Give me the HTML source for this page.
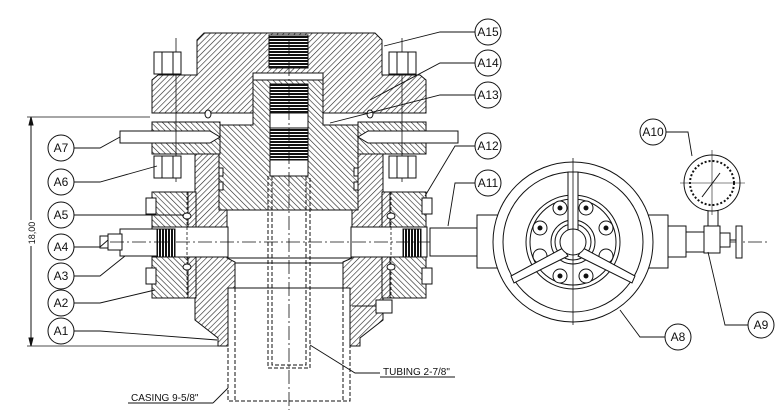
<!DOCTYPE html>
<html><head><meta charset="utf-8"><style>
html,body{margin:0;padding:0;background:#fff;}
svg{display:block;}
text{font-family:"Liberation Sans",sans-serif;fill:#111;}
</style></head><body>
<svg width="781" height="416" viewBox="0 0 781 416" xmlns="http://www.w3.org/2000/svg">
<defs>
<pattern id="h1" width="4" height="4" patternUnits="userSpaceOnUse" patternTransform="rotate(45)"><rect width="4" height="4" fill="#fff"/><line x1="0" y1="0" x2="0" y2="4" stroke="#222" stroke-width="1.2"/></pattern>
<pattern id="h2" width="4" height="4" patternUnits="userSpaceOnUse" patternTransform="rotate(-45)"><rect width="4" height="4" fill="#fff"/><line x1="0" y1="0" x2="0" y2="4" stroke="#222" stroke-width="1.2"/></pattern>
<pattern id="th" width="4" height="3" patternUnits="userSpaceOnUse"><rect width="4" height="3" fill="#fff"/><rect width="4" height="2" fill="#111"/></pattern>
<pattern id="sl" width="3" height="4" patternUnits="userSpaceOnUse"><rect width="3" height="4" fill="#fff"/><rect width="2" height="4" fill="#111"/></pattern>
</defs>
<g stroke="#111" stroke-width="1" fill="none">
<!-- cap -->
<path d="M197,40 L204,33 L375,33 L382,40 L382,75 L420,75 L426,80 L426,113 L152,113 L152,80 L158,75 L197,75 Z" fill="url(#h1)"/>
<rect x="269" y="35" width="39" height="33" fill="url(#th)"/>
<!-- hanger neck -->
<path d="M253,73 L323,73 L323,125 L358,125 L358,210 L219,210 L219,125 L253,125 Z" fill="url(#h2)"/>
<rect x="253" y="73" width="70" height="7" fill="#fff"/>
<rect x="270" y="84" width="38" height="29" fill="url(#th)"/>
<rect x="270" y="113" width="38" height="15" fill="#fff"/>
<rect x="270" y="128" width="38" height="32" fill="url(#th)"/>
<rect x="270" y="160" width="38" height="16" fill="#fff"/>
<rect x="219" y="168" width="4" height="8" fill="#fff"/><rect x="219" y="182" width="4" height="8" fill="#fff"/>
<rect x="354" y="168" width="4" height="8" fill="#fff"/><rect x="354" y="182" width="4" height="8" fill="#fff"/>
<!-- upper flanges -->
<rect x="152" y="122" width="68" height="32" fill="url(#h2)"/>
<rect x="358" y="122" width="68" height="32" fill="url(#h2)"/>
<ellipse cx="208" cy="114" rx="3" ry="4" fill="#fff"/><ellipse cx="370" cy="114" rx="3" ry="4" fill="#fff"/>
<!-- A7 plates -->
<path d="M120,131 L210,131 L220,137 L210,143 L120,143 Z" fill="#fff"/>
<path d="M458,131 L368,131 L358,137 L368,143 L458,143 Z" fill="#fff"/>
<!-- housing walls -->
<path d="M195,154 L219,154 L219,210 L227,210 L227,258 L235,262 L235,288 L228,288 L228,346 L218,346 L218,338 L195,320 Z" fill="url(#h1)"/>
<path d="M383,154 L358,154 L358,210 L352,210 L352,258 L343,262 L343,288 L350,288 L350,346 L360,346 L360,338 L383,320 Z" fill="url(#h1)"/>
<!-- side flanges -->
<rect x="152" y="192" width="36" height="106" fill="url(#h2)"/>
<rect x="390" y="192" width="36" height="106" fill="url(#h2)"/>
<rect x="188" y="192" width="8" height="106" fill="url(#h1)"/>
<rect x="382" y="192" width="8" height="106" fill="url(#h1)"/>
<!-- bores -->
<rect x="152" y="227" width="76" height="30" fill="#fff"/>
<rect x="351" y="227" width="76" height="30" fill="#fff"/>
<rect x="157" y="229" width="18" height="28" fill="url(#sl)"/>
<rect x="403" y="229" width="18" height="28" fill="url(#sl)"/>
<line x1="187" y1="192" x2="187" y2="298" stroke-dasharray="3,2" stroke-width="0.8"/>
<line x1="391" y1="192" x2="391" y2="298" stroke-dasharray="3,2" stroke-width="0.8"/>
<ellipse cx="187" cy="216" rx="4" ry="3" fill="#fff"/><ellipse cx="187" cy="267" rx="4" ry="3" fill="#fff"/>
<ellipse cx="391" cy="216" rx="4" ry="3" fill="#fff"/><ellipse cx="391" cy="267" rx="4" ry="3" fill="#fff"/>
<!-- plug A4/A3 -->
<rect x="120" y="229" width="37" height="27" fill="#fff"/>
<rect x="108" y="234" width="14" height="16" fill="#fff"/>
<rect x="100" y="236" width="8" height="12" fill="#fff"/>
<!-- nuts/bolts -->
<line x1="176" y1="38" x2="176" y2="182" stroke-width="0.8"/>
<line x1="402" y1="38" x2="402" y2="182" stroke-width="0.8"/>
<rect x="154" y="52" width="27" height="22" fill="#fff"/><line x1="162" y1="52" x2="162" y2="74"/><line x1="173" y1="52" x2="173" y2="74"/>
<rect x="389" y="52" width="27" height="22" fill="#fff"/><line x1="397" y1="52" x2="397" y2="74"/><line x1="408" y1="52" x2="408" y2="74"/>
<rect x="154" y="156" width="27" height="22" fill="#fff"/><line x1="162" y1="156" x2="162" y2="178"/><line x1="173" y1="156" x2="173" y2="178"/>
<rect x="389" y="156" width="27" height="22" fill="#fff"/><line x1="397" y1="156" x2="397" y2="178"/><line x1="408" y1="156" x2="408" y2="178"/>
<rect x="146" y="198" width="10" height="16" fill="#fff"/><rect x="146" y="268" width="10" height="16" fill="#fff"/>
<rect x="422" y="198" width="10" height="16" fill="#fff"/><rect x="422" y="268" width="10" height="16" fill="#fff"/>
<!-- small side fitting -->
<line x1="352" y1="306" x2="376" y2="306"/><rect x="376" y="300" width="16" height="13" fill="#fff"/>
<!-- lines bore -->
<line x1="227" y1="258" x2="352" y2="258"/><line x1="235" y1="263" x2="343" y2="263"/><line x1="235" y1="288" x2="343" y2="288"/>
<!-- casing & tubing -->
<g stroke-dasharray="4,2">
<path d="M228,288 L228,401 L350,401 L350,288"/><path d="M235,288 L235,401 M343,288 L343,401"/>
<path d="M268,176 L268,368 L310,368 L310,176"/><path d="M272,176 L272,365 L306,365 L306,176"/>
</g>
<line x1="289" y1="40" x2="289" y2="410" stroke-dasharray="14,3,2,3" stroke-width="0.8"/>
<line x1="110" y1="242" x2="770" y2="242" stroke-dasharray="14,3,2,3" stroke-width="0.8"/>
<!-- dimension -->
<line x1="27" y1="117" x2="150" y2="117" stroke-width="0.8"/><line x1="27" y1="346" x2="220" y2="346" stroke-width="0.8"/>
<line x1="31" y1="117" x2="31" y2="346"/>
<path d="M31,117 l-2,8 l4,0 Z M31,346 l-2,-8 l4,0 Z" fill="#111"/>
<!-- right: pipe and valve -->
<rect x="430" y="228" width="47" height="28" fill="#fff"/>
<rect x="477" y="215" width="191" height="53" fill="#fff"/>
<rect x="668" y="226" width="18" height="31" fill="#fff"/>
<rect x="686" y="232" width="18" height="20" fill="#fff"/>
<rect x="704" y="226" width="16" height="27" fill="#fff"/>
<rect x="720" y="233" width="10" height="14" fill="#fff"/>
<rect x="736" y="226" width="6" height="32" fill="#fff"/>
<line x1="730" y1="240" x2="736" y2="240"/>
<rect x="708" y="210" width="10" height="16" fill="#fff"/>
<!-- handwheel -->
<circle cx="573" cy="242" r="80" fill="#fff"/>
<circle cx="573" cy="242" r="70"/>
<circle cx="573" cy="242" r="47"/>
<circle cx="573" cy="242" r="43"/>
<circle cx="573" cy="242" r="22"/><circle cx="573" cy="242" r="18"/>
<g fill="#fff">
<circle cx="560" cy="208" r="7"/><circle cx="586" cy="208" r="7"/>
<circle cx="540" cy="228" r="7"/><circle cx="606" cy="228" r="7"/>
<circle cx="540" cy="256" r="7"/><circle cx="606" cy="256" r="7"/>
<circle cx="560" cy="276" r="7"/><circle cx="586" cy="276" r="7"/>
</g>
<g fill="#111"><circle cx="560" cy="208" r="2"/><circle cx="586" cy="208" r="2"/><circle cx="540" cy="228" r="2"/><circle cx="606" cy="228" r="2"/><circle cx="560" cy="276" r="2"/><circle cx="586" cy="276" r="2"/></g>
<path d="M568,172 L578,172 L578,232 L568,232 Z" fill="#fff"/>
<path d="M563,248 L511,276 L514,283 L568,256 Z" fill="#fff"/>
<path d="M583,248 L635,276 L632,283 L578,256 Z" fill="#fff"/>
<circle cx="573" cy="242" r="13" fill="#fff"/>
<line x1="573" y1="158" x2="573" y2="325" stroke-width="0.8"/>
<!-- gauge -->
<circle cx="712" cy="183" r="28" fill="#fff"/><circle cx="712" cy="183" r="22" stroke-dasharray="2,2" stroke-width="2"/>
<line x1="702" y1="197" x2="720" y2="173"/>
<line x1="680" y1="183" x2="745" y2="183" stroke-width="0.6"/><line x1="712" y1="150" x2="712" y2="215" stroke-width="0.6"/>
<!-- leaders -->
<g stroke-width="0.9">
<path d="M74,148 L100,148 L120,137"/><path d="M74,182 L100,182 L157,166"/>
<path d="M74,215 L150,215 L184,215"/><path d="M74,247 L100,247 L108,240"/>
<path d="M74,276 L100,276 L125,256"/><path d="M74,303 L100,303 L155,290"/>
<path d="M74,331 L100,331 L217,340"/>
<path d="M475,32 L440,32 L384,46"/><path d="M475,63 L440,63 L370,100"/>
<path d="M475,95 L440,95 L330,123"/><path d="M475,146 L455,146 L425,196"/>
<path d="M475,183 L455,183 L448,226"/>
<path d="M666,132 L688,132 L692,156"/>
<path d="M748,325 L725,325 L708,252"/>
<path d="M665,337 L640,337 L620,310"/>
<path d="M380,373 L355,373 L310,345"/><path d="M455,377 L380,377"/>
<path d="M213,403 L128,403"/><path d="M213,403 L228,388"/>
</g>
<g fill="#fff" stroke-width="1">
<circle cx="61" cy="148" r="13"/><circle cx="61" cy="182" r="13"/><circle cx="61" cy="215" r="13"/>
<circle cx="61" cy="247" r="13"/><circle cx="61" cy="276" r="13"/><circle cx="61" cy="303" r="13"/>
<circle cx="61" cy="331" r="13"/>
<circle cx="488" cy="32" r="13"/><circle cx="488" cy="63" r="13"/><circle cx="488" cy="95" r="13"/>
<circle cx="488" cy="146" r="13"/><circle cx="488" cy="183" r="13"/>
<circle cx="653" cy="132" r="13"/><circle cx="761" cy="325" r="13"/><circle cx="678" cy="337" r="13"/>
</g>
</g>
<rect x="25" y="220" width="12" height="26" fill="#fff"/>
<text x="35" y="233" font-size="9" text-anchor="middle" transform="rotate(-90 35 233)">18,00</text>
<g font-size="12" text-anchor="middle">
<text x="61" y="152">A7</text><text x="61" y="186">A6</text><text x="61" y="219">A5</text>
<text x="61" y="251">A4</text><text x="61" y="280">A3</text><text x="61" y="307">A2</text><text x="61" y="335">A1</text>
<text x="488" y="36">A15</text><text x="488" y="67">A14</text><text x="488" y="99">A13</text>
<text x="488" y="150">A12</text><text x="488" y="187">A11</text>
<text x="653" y="136">A10</text><text x="761" y="329">A9</text><text x="678" y="341">A8</text>
</g>
<text x="383" y="375" font-size="10">TUBING 2-7/8"</text>
<text x="131" y="401" font-size="10">CASING 9-5/8"</text>
</svg>
</body></html>
